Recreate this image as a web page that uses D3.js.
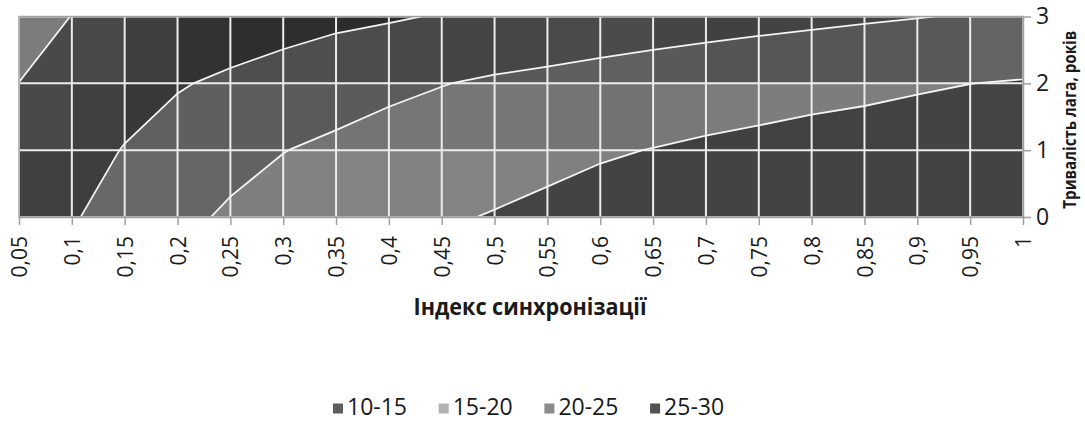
<!DOCTYPE html>
<html>
<head>
<meta charset="utf-8">
<script src="https://cdn.jsdelivr.net/npm/d3@7"></script>
<style>
  body { margin: 0; background: #fff; }
  svg { display: block; font-family: "Open Sans", sans-serif; }
</style>
</head>
<body>
<div id="chart"></div>
<script>
// categories (x) and series (lag in years)
const syncIndex = ["0,05", "0,1", "0,15", "0,2", "0,25", "0,3", "0,35", "0,4", "0,45", "0,5",
                   "0,55", "0,6", "0,65", "0,7", "0,75", "0,8", "0,85", "0,9", "0,95", "1"];
const lagYears = ["0", "1", "2", "3"];

// surface values, one array per lag
const lag0 = [27, 25.4, 23, 21.2, 19.3, 18.1, 17.2, 16.3, 15.4, 14.8,
              14.0, 13.4, 12.7, 12.3, 11.9, 11.6, 11.3, 11.0, 10.8, 10.6];
const lag1 = [28, 27, 24.78, 22.8, 21.6, 20.1, 19.1, 18.2, 17.4, 16.6,
              16.2, 15.4, 14.9, 14.5, 14.1, 13.8, 13.5, 13.2, 13.0, 12.8];
const lag2 = [25.05, 27.5, 27.0, 25.39, 24.09, 23.0, 22.1, 20.97, 20.14, 19.36,
              18.9, 18.4, 17.9, 16.8, 16.53, 16.06, 15.77, 15.37, 15.02, 14.8];
const lag3 = [22, 25.1, 27.8, 28, 28.05, 26.92, 25.97, 25.45, 24.7, 24.28,
              23.3, 22.6, 22.1, 22.05, 21.42, 20.98, 20.52, 20.14, 19.67, 18.13];

const bands = ["10-15", "15-20", "20-25", "25-30"];
const bandThresholds = [10, 15, 20, 25, 30];
const bandColors = ["#5e5e5e", "#b2b2b2", "#8b8b8b", "#525252"];

const width = 1085, height = 421;
const plot = { left: 19, right: 1023, top: 16.5, bottom: 217 };

const svg = d3.select("#chart").append("svg")
  .attr("width", width)
  .attr("height", height);

const xScale = d3.scalePoint().domain(syncIndex).range([plot.left, plot.right]);
const yScale = d3.scalePoint().domain(lagYears).range([plot.bottom, plot.top]);
// index based scales for the contour geometry
const xIdx = d3.scaleLinear().domain([0, syncIndex.length - 1]).range([plot.left, plot.right]);
const yIdx = d3.scaleLinear().domain([0, lagYears.length - 1]).range([plot.bottom, plot.top]);

svg.append("clipPath").attr("id", "plot-clip")
  .append("rect")
  .attr("x", plot.left).attr("y", plot.top)
  .attr("width", plot.right - plot.left).attr("height", plot.bottom - plot.top);

const n = syncIndex.length, m = lagYears.length;
const grid = [lag0, lag1, lag2, lag3];
const contours = d3.contours().size([n, m]).thresholds(bandThresholds)(grid.flat());

// contour grid puts values at cell centers, shift by half a cell
const toPx = d3.geoTransform({
  point(gx, gy) { this.stream.point(xIdx(gx - 0.5), yIdx(gy - 0.5)); }
});
const path = d3.geoPath(toPx);

const plotG = svg.append("g").attr("clip-path", "url(#plot-clip)");

plotG.selectAll(".band").data(contours.slice(0, bands.length)).enter().append("path")
  .attr("class", "band")
  .attr("d", path)
  .attr("fill", (d, i) => bandColors[i]);

// lighting of each facet, darker where the surface rises faster along the lag axis
const cells = [];
for (let j = 0; j < m - 1; j++) {
  for (let i = 0; i < n - 1; i++) {
    const s = ((grid[j + 1][i] - grid[j][i]) + (grid[j + 1][i + 1] - grid[j][i + 1])) / 2;
    cells.push({ i, j, f: Math.max(0.45, Math.min(0.9, 0.9 - 0.085 * s)) });
  }
}
plotG.selectAll(".shade").data(cells).enter().append("rect")
  .attr("class", "shade")
  .attr("x", d => xIdx(d.i))
  .attr("y", d => yIdx(d.j + 1))
  .attr("width", d => xIdx(d.i + 1) - xIdx(d.i))
  .attr("height", d => yIdx(d.j) - yIdx(d.j + 1))
  .attr("fill", "#000")
  .attr("opacity", d => 1 - d.f);

// grid lines
plotG.selectAll(".vgrid").data(syncIndex).enter().append("line")
  .attr("x1", d => xScale(d)).attr("x2", d => xScale(d))
  .attr("y1", plot.top).attr("y2", plot.bottom)
  .attr("stroke", "#ececec").attr("stroke-width", 2);
plotG.selectAll(".hgrid").data(lagYears).enter().append("line")
  .attr("y1", d => yScale(d)).attr("y2", d => yScale(d))
  .attr("x1", plot.left).attr("x2", plot.right)
  .attr("stroke", "#ececec").attr("stroke-width", 2);

// contour lines
plotG.selectAll(".iso").data(contours.slice(1, bands.length)).enter().append("path")
  .attr("class", "iso")
  .attr("d", path)
  .attr("fill", "none")
  .attr("stroke", "#f4f4f4")
  .attr("stroke-width", 1.8);

svg.append("rect")
  .attr("x", plot.left).attr("y", plot.top)
  .attr("width", plot.right - plot.left).attr("height", plot.bottom - plot.top)
  .attr("fill", "none").attr("stroke", "#a0a0a0").attr("stroke-width", 1.5);

// axes
const xAxis = d3.axisBottom(xScale).tickSize(8).tickSizeOuter(0);
const gx = svg.append("g")
  .attr("transform", `translate(0, ${plot.bottom})`)
  .call(xAxis);
gx.selectAll("text")
  .attr("transform", "rotate(-90)")
  .attr("text-anchor", "end")
  .attr("x", -19).attr("y", 0).attr("dy", "0.36em")
  .attr("font-size", 21)
  .attr("font-family", "Open Sans, sans-serif")
  .attr("fill", "#1a1a1a");

const yAxis = d3.axisRight(yScale).tickSize(8).tickSizeOuter(0);
const gy = svg.append("g")
  .attr("transform", `translate(${plot.right}, 0)`)
  .call(yAxis);
gy.selectAll("text")
  .attr("x", 13)
  .attr("font-size", 23)
  .attr("font-family", "Open Sans, sans-serif")
  .attr("fill", "#1a1a1a");

svg.selectAll(".domain, .tick line")
  .attr("stroke", "#a0a0a0").attr("stroke-width", 1.5);

// axis titles
svg.append("text")
  .attr("x", (plot.left + plot.right) / 2 + 9).attr("y", 315)
  .attr("text-anchor", "middle")
  .attr("font-size", 23).attr("font-weight", "bold")
  .attr("textLength", 233).attr("lengthAdjust", "spacingAndGlyphs")
  .attr("fill", "#1a1a1a")
  .text("Індекс синхронізації");

svg.append("text")
  .attr("transform", `translate(1076, ${(plot.top + plot.bottom) / 2 + 3}) rotate(-90)`)
  .attr("text-anchor", "middle")
  .attr("font-size", 17).attr("font-weight", "bold")
  .attr("textLength", 178).attr("lengthAdjust", "spacingAndGlyphs")
  .attr("fill", "#1a1a1a")
  .text("Тривалість лага, років");

// legend
const legend = svg.append("g").attr("transform", "translate(333, 403.5)");
const item = legend.selectAll(".item").data(bands).enter().append("g")
  .attr("class", "item")
  .attr("transform", (d, i) => `translate(${i * 105.7}, 0)`);
item.append("rect")
  .attr("width", 10).attr("height", 10)
  .attr("fill", (d, i) => bandColors[i]);
item.append("text")
  .attr("x", 14).attr("y", 11)
  .attr("font-size", 23)
  .attr("fill", "#1a1a1a")
  .text(d => d);
</script>
</body>
</html>
